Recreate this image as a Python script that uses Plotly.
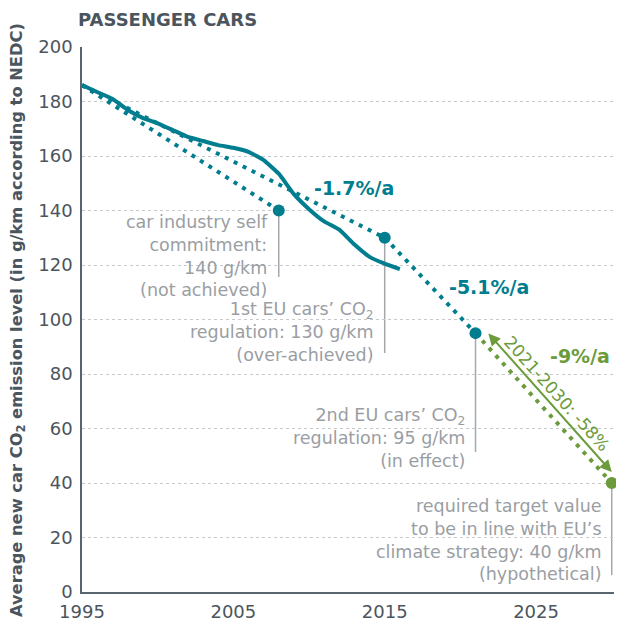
import plotly.graph_objects as go

# ---------------- data ----------------
years_actual = list(range(1995, 2017))
co2_actual = [186, 183.5, 181, 177, 174, 172, 169.5, 167, 165.5, 164, 163,
              161.5, 158.5, 153.5, 146, 140.5, 136, 133, 127.5, 123, 120.5, 118.5]

milestone_years = [2008, 2015, 2021, 2030]
milestone_values = [140, 130, 95, 40]

commit_years = [1995, 2008]
commit_values = [186, 140]
reg1_years = [1995, 2015]
reg1_values = [186, 130]
reg2_years = [2015, 2021]
reg2_values = [130, 95]
future_years = [2021, 2030]
future_values = [95, 40]

milestone_labels = [
    "car industry self<br>commitment:<br>140 g/km<br>(not achieved)",
    "1st EU cars’ CO<sub>2</sub><br>regulation: 130 g/km<br>(over-achieved)",
    "2nd EU cars’ CO<sub>2</sub><br>regulation: 95 g/km<br>(in effect)",
    "required target value<br>to be in line with EU’s<br>climate strategy: 40 g/km<br>(hypothetical)",
]
rate_labels = ["-1.7%/a", "-5.1%/a", "-9%/a"]
arrow_label = "2021-2030: -58%"
x_tick_vals = [1995, 2005, 2015, 2025]
y_tick_vals = [0, 20, 40, 60, 80, 100, 120, 140, 160, 180, 200]

# ---------------- style ----------------
TEAL = "#007d8f"
GREEN = "#6b9b3b"
GRAY_TXT = "#9a9ea3"
DARK = "#4b555d"
FONT = "DejaVu Sans"
DOT = "4px,6px"

# the page body adds an 8px margin, so the figure is sized/offset for it
W, H = 608, 619
ML, MR, MT, MB = 74, 2, 39, 35
PLOT_W = W - ML - MR

fig = go.Figure()

for xs, ys, c in [(commit_years, commit_values, TEAL), (reg1_years, reg1_values, TEAL),
                  (reg2_years, reg2_values, TEAL), (future_years, future_values, GREEN)]:
    fig.add_trace(go.Scatter(x=xs, y=ys, mode="lines", cliponaxis=False,
                             line=dict(color=c, width=4, dash=DOT), hoverinfo="skip"))

fig.add_trace(go.Scatter(x=years_actual, y=co2_actual, mode="lines", cliponaxis=False,
                         line=dict(color=TEAL, width=4, shape="spline", smoothing=0.4)))

# leader lines below milestone markers
leader_end = [115.6, 87.7, 51.4, 6.2]
for xv, yv, ye in zip(milestone_years, milestone_values, leader_end):
    fig.add_shape(type="line", x0=xv, x1=xv, y0=yv, y1=ye, xref="x", yref="y",
                  line=dict(color="#a4a8ac", width=1.5), layer="below")

fig.add_trace(go.Scatter(x=milestone_years, y=milestone_values, mode="markers",
                         cliponaxis=False,
                         marker=dict(size=12, color=[TEAL, TEAL, TEAL, GREEN]),
                         hoverinfo="x+y"))

# milestone text labels (right aligned)
label_pos = [(2007.4, 123.3), (2014.45, 95.4), (2020.45, 56.5), (2029.5, 19.1)]
for txt, (lx, ly) in zip(milestone_labels, label_pos):
    fig.add_annotation(x=lx, y=ly, xref="x", yref="y", text=txt, showarrow=False,
                       xanchor="right", yanchor="middle", align="right",
                       font=dict(family=FONT, size=17.5, color=GRAY_TXT))

# rate labels
rate_pos = [(2013.0, 148.3, TEAL, "center"), (2021.9, 111.9, TEAL, "center"),
            (2030.05, 86.6, GREEN, "right")]
for txt, (lx, ly, c, anc) in zip(rate_labels, rate_pos):
    fig.add_annotation(x=lx, y=ly, xref="x", yref="y", text="<b>%s</b>" % txt,
                       xanchor=anc, showarrow=False,
                       font=dict(family=FONT, size=19, color=c))

# double-headed arrow
fig.add_annotation(x=2030.0, y=44.0, ax=2021.76, ay=95.4, xref="x", yref="y",
                   axref="x", ayref="y", text="", showarrow=True,
                   arrowhead=2, startarrowhead=2, arrowside="end+start",
                   arrowsize=1.2, startarrowsize=1.2, arrowwidth=2, arrowcolor=GREEN)
fig.add_annotation(x=2026.4, y=72.7, xref="x", yref="y", text=arrow_label,
                   showarrow=False, textangle=48,
                   font=dict(family=FONT, size=17, color=GREEN))

# y-axis title
fig.add_annotation(xref="paper", yref="paper", x=-65 / PLOT_W, y=0.499,
                   text="<b>Average new car CO<sub>2</sub> emission level (in g/km according to NEDC)</b>",
                   textangle=-90, showarrow=False, xanchor="center", yanchor="middle",
                   font=dict(family=FONT, size=16.3, color=DARK))

fig.update_layout(
    width=W, height=H,
    margin=dict(l=ML, r=MR, t=MT, b=MB, autoexpand=False),
    paper_bgcolor="white", plot_bgcolor="white",
    showlegend=False,
    title=dict(text="<b>PASSENGER CARS</b>", xref="container", yref="container",
               x=70 / W, xanchor="left", y=1 - 12 / H, yanchor="middle",
               font=dict(family=FONT, size=18, color=DARK)),
    xaxis=dict(range=[1995, 2030.15], tickvals=x_tick_vals, automargin=False,
               tickfont=dict(family=FONT, size=18, color=DARK),
               showgrid=False, zeroline=False, showline=True,
               linecolor="#5a646c", linewidth=1.5, ticks="", ticklabelstandoff=3),
    yaxis=dict(range=[0, 200], tickvals=y_tick_vals, automargin=False,
               tickfont=dict(family=FONT, size=18, color=DARK),
               showgrid=True, gridcolor="#c6c9cc", griddash="dot", gridwidth=1,
               zeroline=False, showline=True, linecolor="#5a646c", linewidth=1.5,
               ticks="", ticklabelstandoff=4),
)

fig.write_html("out.html")
